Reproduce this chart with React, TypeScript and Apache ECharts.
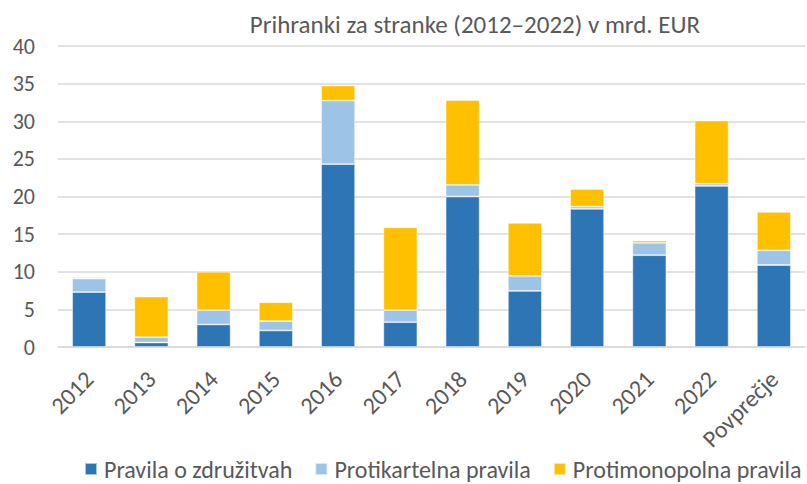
import React, { useEffect, useRef } from "react";
import * as echarts from "echarts";

const categories = ["2012", "2013", "2014", "2015", "2016", "2017", "2018", "2019", "2020", "2021", "2022", "Povprečje"];
const merger = [7.3, 0.6, 3.0, 2.2, 24.3, 3.3, 20.0, 7.45, 18.35, 12.2, 21.4, 10.9];
const antitrust = [1.8, 0.7, 1.9, 1.25, 8.45, 1.6, 1.55, 2.0, 0.3, 1.65, 0.3, 1.95];
const monopoly = [0.2, 5.4, 5.1, 2.5, 2.0, 11.0, 11.25, 7.05, 2.35, 0.3, 8.4, 5.1];
const seriesNames = ["Pravila o združitvah", "Protikartelna pravila", "Protimonopolna pravila"];
const yTicks = [0, 5, 10, 15, 20, 25, 30, 35, 40];
const titleText = "Prihranki za stranke (2012–2022) v mrd. EUR";

const FONT = "Carlito, 'Liberation Sans Narrow', Lato, sans-serif";
const TXT = "#595959";
const colors = ["#2E75B6", "#9DC3E6", "#FFC000"];

export default function App() {
  const ref = useRef<HTMLDivElement>(null);
  useEffect(() => {
    if (!ref.current) return;
    const chart = echarts.init(ref.current, undefined, { renderer: "svg" });
    const data = [merger, antitrust, monopoly];
    chart.setOption({
      animation: false,
      color: colors,
      textStyle: { fontFamily: FONT },
      title: {
        text: titleText,
        left: 470,
        textAlign: "center",
        top: 7,
        textStyle: { fontFamily: FONT, fontSize: 25, fontWeight: "normal", color: TXT },
      },
      legend: {
        bottom: 1,
        left: 84,
        padding: [0, 0, 2, 0],
        itemWidth: 12,
        itemHeight: 12,
        itemGap: 22,
        icon: "rect",
        textStyle: { fontFamily: FONT, fontSize: 24, color: TXT, padding: [0, 0, 0, 2] },
        data: seriesNames,
      },
      grid: { left: 58, right: 2, top: 46, bottom: 137 },
      xAxis: {
        type: "category",
        data: categories,
        axisTick: { show: false },
        axisLine: { lineStyle: { color: "#D9D9D9", width: 1.5 } },
        axisLabel: { rotate: 45, fontFamily: FONT, fontSize: 24, color: TXT, margin: 28, interval: 0 },
      },
      yAxis: {
        type: "value",
        min: yTicks[0],
        max: yTicks[yTicks.length - 1],
        interval: 5,
        axisLine: { show: false },
        axisTick: { show: false },
        splitLine: { lineStyle: { color: "#D9D9D9", width: 1.5 } },
        axisLabel: { fontFamily: FONT, fontSize: 22, color: TXT, margin: 23 },
      },
      series: seriesNames.map((name, i) => ({
        name,
        type: "bar",
        stack: "total",
        barWidth: 34,
        data: data[i],
        itemStyle: { color: colors[i], borderColor: "rgba(255,255,255,0.6)", borderWidth: 0.8 },
      })),
    });
    return () => chart.dispose();
  }, []);
  return <div ref={ref} style={{ width: 807, height: 484, position: "absolute", left: 0, top: 0 }} />;
}
